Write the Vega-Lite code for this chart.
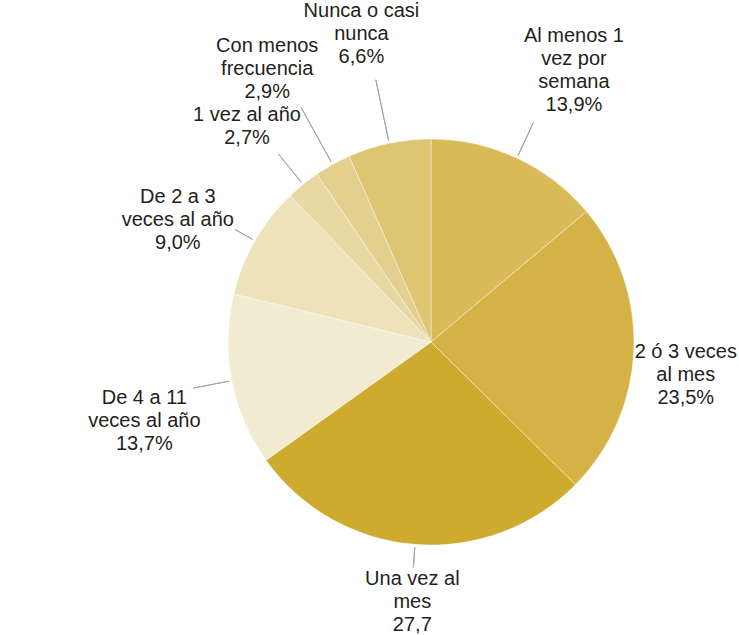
{
  "$schema": "https://vega.github.io/schema/vega-lite/v6.json",
  "width": 616,
  "height": 586,
  "autosize": {"type": "none"},
  "padding": {"left": 123, "top": 49, "right": 0, "bottom": 0},
  "background": "white",
  "config": {"view": {"stroke": null}, "text": {"font": "Liberation Sans"}},
  "data": {
    "values": [
      {"rank": 1, "cat": "Al menos 1 vez por semana", "label": "Al menos 1\nvez por\nsemana\n13,9%", "value": 13.9},
      {"rank": 2, "cat": "2 ó 3 veces al mes", "label": "2 ó 3 veces\nal mes\n23,5%", "value": 23.5},
      {"rank": 3, "cat": "Una vez al mes", "label": "Una vez al\nmes\n27,7", "value": 27.7},
      {"rank": 4, "cat": "De 4 a 11 veces al año", "label": "De 4 a 11\nveces al año\n13,7%", "value": 13.7},
      {"rank": 5, "cat": "De 2 a 3 veces al año", "label": "De 2 a 3\nveces al año\n9,0%", "value": 9.0},
      {"rank": 6, "cat": "1 vez al año", "label": "1 vez al año\n2,7%", "value": 2.7},
      {"rank": 7, "cat": "Con menos frecuencia", "label": "Con menos\nfrecuencia\n2,9%", "value": 2.9},
      {"rank": 8, "cat": "Nunca o casi nunca", "label": "Nunca o casi\nnunca\n6,6%", "value": 6.6}
    ]
  },
  "encoding": {
    "theta": {"field": "value", "type": "quantitative", "stack": true},
    "order": {"field": "rank", "type": "quantitative"},
    "detail": {"field": "cat", "type": "nominal"}
  },
  "layer": [
    {
      "mark": {"type": "arc", "outerRadius": 203, "stroke": "#ffffff", "strokeWidth": 0.6, "strokeOpacity": 0.7},
      "encoding": {
        "color": {
          "field": "cat",
          "type": "nominal",
          "legend": null,
          "scale": {
            "domain": ["Al menos 1 vez por semana", "2 ó 3 veces al mes", "Una vez al mes", "De 4 a 11 veces al año", "De 2 a 3 veces al año", "1 vez al año", "Con menos frecuencia", "Nunca o casi nunca"],
            "range": ["#D8BB58", "#D4B245", "#CEAA2E", "#F3EBD1", "#EEE2BB", "#E8D8A4", "#E3CF8E", "#DEC572"]
          }
        }
      }
    },
    {
      "mark": {"type": "arc", "innerRadius": 206, "outerRadius": 226, "padAngle": 3.14, "fillOpacity": 0, "stroke": "#a3a3a3", "strokeWidth": 1},
      "encoding": {
        "strokeOpacity": {"condition": {"test": "datum.rank == 3 || datum.rank == 5", "value": 1}, "value": 0}
      }
    },
    {
      "mark": {"type": "arc", "innerRadius": 206, "outerRadius": 242, "padAngle": 3.14, "fillOpacity": 0, "stroke": "#a3a3a3", "strokeWidth": 1},
      "encoding": {
        "strokeOpacity": {"condition": {"test": "datum.rank == 1 || datum.rank == 4 || datum.rank == 6", "value": 1}, "value": 0}
      }
    },
    {
      "mark": {"type": "arc", "innerRadius": 206, "outerRadius": 268, "padAngle": 3.14, "fillOpacity": 0, "stroke": "#a3a3a3", "strokeWidth": 1},
      "encoding": {
        "strokeOpacity": {"condition": {"test": "datum.rank == 7 || datum.rank == 8", "value": 1}, "value": 0}
      }
    },
    {
      "mark": {"type": "text", "radius": 238, "lineBreak": "\n", "fontSize": 20, "lineHeight": 23, "color": "#231f20", "align": "center", "baseline": "middle"},
      "encoding": {
        "text": {"condition": {"test": "datum.rank == 3", "field": "label"}, "value": ""}
      }
    },
    {
      "mark": {"type": "text", "radius": 255, "lineBreak": "\n", "fontSize": 20, "lineHeight": 23, "color": "#231f20", "align": "center", "baseline": "middle"},
      "encoding": {
        "text": {"condition": {"test": "datum.rank == 2", "field": "label"}, "value": ""}
      }
    },
    {
      "mark": {"type": "text", "radius": 292, "lineBreak": "\n", "fontSize": 20, "lineHeight": 23, "color": "#231f20", "align": "center", "baseline": "middle"},
      "encoding": {
        "text": {"condition": {"test": "datum.rank == 4 || datum.rank == 5 || datum.rank == 6", "field": "label"}, "value": ""}
      }
    },
    {
      "mark": {"type": "text", "radius": 338, "lineBreak": "\n", "fontSize": 20, "lineHeight": 23, "color": "#231f20", "align": "center", "baseline": "middle"},
      "encoding": {
        "text": {"condition": {"test": "datum.rank == 1 || datum.rank == 7 || datum.rank == 8", "field": "label"}, "value": ""}
      }
    }
  ]
}
